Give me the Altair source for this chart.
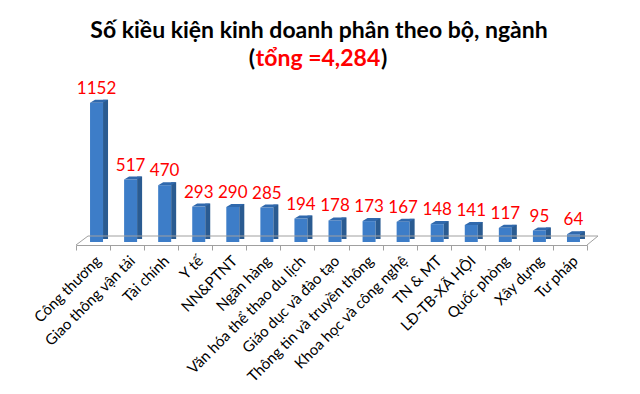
import altair as alt
import pandas as pd

categories = ["Công thương", "Giao thông vận tải", "Tài chính", "Y tế", "NN&PTNT",
              "Ngân hàng", "Văn hóa thể thao du lịch", "Giáo dục và đào tạo",
              "Thông tin và truyền thông", "Khoa học và công nghệ", "TN & MT",
              "LĐ-TB-XÃ HỘI", "Quốc phòng", "Xây dựng", "Tư pháp"]
values = [1152, 517, 470, 293, 290, 285, 194, 178, 173, 167, 148, 141, 117, 95, 64]
title_line1 = "Số kiều kiện kinh doanh phân theo bộ, ngành"
title_total = "tổng =4,284"

df = pd.DataFrame({"cat": categories, "val": values})

FONT = "Lato"
W, H = 511, 145

axis = alt.Axis(title=None, labelAngle=-45, labelFont=FONT, labelFontSize=15,
                labelColor="#000000", domainColor="#a0a0a0", tickColor="#a0a0a0",
                tickBand="extent", tickSize=5, offset=3, labelPadding=3,
                labelLimit=300)
xenc = alt.X("cat:N", sort=categories,
             scale=alt.Scale(paddingInner=0, paddingOuter=0), axis=axis)
yenc = alt.Y("val:Q", scale=alt.Scale(domain=[0, 1200]), axis=None)

base = alt.Chart(df)

front = base.mark_bar(size=13, xOffset=3.5, color="#3d7dc8").encode(x=xenc, y=yenc)
side = base.mark_bar(size=5, xOffset=12.5, yOffset=-3, color="#2a5b91").encode(
    x=xenc, y=yenc)
top = base.mark_point(shape="M -6.5 0 L 6.5 0 L 11.5 -3 L -1.5 -3 Z", size=4,
                      filled=True, opacity=1, strokeWidth=0, xOffset=3.5,
                      color="#3069ad").encode(x=xenc, y=yenc)
labels = base.mark_text(font=FONT, fontSize=17, color="#ff0000", dx=3.5, dy=-9,
                        baseline="alphabetic").encode(
    x=xenc, y=yenc, text=alt.Text("val:Q"))

one = alt.Chart(pd.DataFrame({"a": [0]}))
floor_col = "#a0a0a0"
back_edge = one.mark_rule(color=floor_col).encode(
    x=alt.value(12), x2=alt.value(522), y=alt.value(139))
left_edge = one.mark_rule(color=floor_col).encode(
    x=alt.value(0), x2=alt.value(12), y=alt.value(148), y2=alt.value(139))
right_edge = one.mark_rule(color=floor_col).encode(
    x=alt.value(511), x2=alt.value(522), y=alt.value(148), y2=alt.value(139))

TS = 23
t1 = one.mark_text(font=FONT, fontSize=TS, fontWeight="bold", color="#000000",
                   align="center", baseline="middle").encode(
    x=alt.value(243), y=alt.value(-66), text=alt.value(title_line1))
t2 = one.mark_text(font=FONT, fontSize=TS, fontWeight="bold", color="#ff0000",
                   align="center", baseline="middle").encode(
    x=alt.value(242), y=alt.value(-38), text=alt.value(title_total))
t2l = one.mark_text(font=FONT, fontSize=TS, fontWeight="bold", color="#000000",
                    align="right", baseline="middle").encode(
    x=alt.value(179), y=alt.value(-38), text=alt.value("("))
t2r = one.mark_text(font=FONT, fontSize=TS, fontWeight="bold", color="#000000",
                    align="left", baseline="middle").encode(
    x=alt.value(305), y=alt.value(-38), text=alt.value(")"))

chart = alt.layer(front, side, top, labels, back_edge, left_edge, right_edge,
                  t1, t2, t2l, t2r).properties(
    width=W, height=H,
    autosize=alt.AutoSizeParams(type="none"),
    padding={"left": 68, "top": 89, "right": 45, "bottom": 144},
    background="#ffffff",
).configure_view(stroke=None)

chart.save("out.html", embed_options={"renderer": "svg", "actions": False})
